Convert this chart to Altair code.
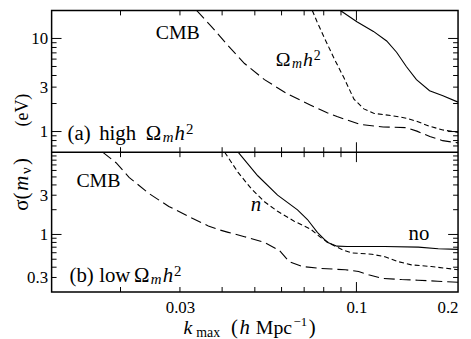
import altair as alt
import pandas as pd

# ---------------- data ----------------
# panel (a): high Omega_m h^2
top_cmb_k = [0.0336, 0.0372, 0.0417, 0.0466, 0.0534, 0.0625, 0.0732, 0.0819, 0.0876,
             0.1026, 0.120, 0.141, 0.151, 0.165, 0.180, 0.2]
top_cmb_s = [20, 13.4, 8.33, 5.38, 3.61, 2.53, 1.92, 1.59, 1.45,
             1.19, 1.12, 1.10, 1.01, 0.885, 0.798, 0.755]
top_om_k = [0.0740, 0.0765, 0.0802, 0.0859, 0.0919, 0.0983, 0.1052, 0.1125, 0.1289,
            0.1407, 0.1506, 0.1647, 0.1804, 0.2]
top_om_s = [20, 15.0, 10.3, 6.07, 3.76, 2.23, 1.75, 1.57, 1.47,
            1.39, 1.29, 1.14, 1.04, 0.98]
top_no_k = [0.0896, 0.1003, 0.1123, 0.1229, 0.1315, 0.1407, 0.1506, 0.1647, 0.1804, 0.2]
top_no_s = [20, 15.1, 11.9, 9.39, 7.11, 4.97, 3.61, 2.74, 2.43, 2.07]

# panel (b): low Omega_m h^2
bot_cmb_k = [0.0177, 0.0194, 0.0212, 0.0243, 0.0278, 0.0318, 0.0364, 0.0389, 0.0417,
             0.0466, 0.0534, 0.0591, 0.0632, 0.0692, 0.0775, 0.0927, 0.1015, 0.1086,
             0.1188, 0.136, 0.152, 0.174, 0.2]
bot_cmb_s = [10, 7.45, 4.95, 3.14, 2.19, 1.66, 1.27, 1.15, 1.06,
             0.94, 0.80, 0.64, 0.467, 0.407, 0.388, 0.372, 0.355, 0.324,
             0.293, 0.283, 0.278, 0.270, 0.263]
bot_n_k = [0.0407, 0.0446, 0.0488, 0.0534, 0.0584, 0.0654, 0.0732, 0.0783, 0.0838,
           0.0917, 0.0970, 0.1110, 0.1215, 0.1330, 0.1455, 0.1666, 0.1908, 0.2]
bot_n_s = [10, 5.67, 3.60, 2.50, 1.91, 1.45, 1.16, 0.921, 0.767,
           0.641, 0.596, 0.575, 0.535, 0.467, 0.427, 0.407, 0.382, 0.372]
bot_no_k = [0.0446, 0.0510, 0.0584, 0.0669, 0.0716, 0.0766, 0.0819, 0.0876, 0.0938,
            0.1213, 0.1526, 0.1747, 0.2]
bot_no_s = [10, 5.17, 3.00, 1.99, 1.52, 1.06, 0.804, 0.721, 0.715,
            0.715, 0.702, 0.670, 0.659]

# axes
x_domain = [0.0125, 0.2]
top_domain = [0.6, 20]
bot_domain = [0.2, 10]
x_label_values = [0.03, 0.1, 0.2]
top_label_values = [1, 3, 10]
bot_label_values = [0.3, 1, 3]
x_minor_ticks = [0.02, 0.03, 0.04, 0.05, 0.06, 0.07, 0.08, 0.09]
x_major_ticks = [0.1]
top_minor_ticks = [0.7, 0.8, 0.9, 2, 3, 4, 5, 6, 7, 8, 9]
top_major_ticks = [1, 10]
bot_minor_ticks = [0.3, 0.4, 0.5, 0.6, 0.7, 0.8, 0.9, 2, 3, 4, 5, 6, 7, 8, 9]
bot_major_ticks = [1]

# texts
lbl_cmb = "CMB"
lbl_omega = "Ω"
lbl_m = "m"
lbl_h = "h"
lbl_two = "2"
lbl_a = "(a)"
lbl_high = "high"
lbl_b = "(b)"
lbl_low = "low"
lbl_n = "n"
lbl_no = "no"

# ---------------- layout / style ----------------
FONT = "Liberation Serif"
W = 410
H_TOP = 143
H = 284
MINOR = 5
MAJOR = 10

xscale = alt.Scale(type="log", domain=x_domain, nice=False)
ytop = alt.Scale(type="log", domain=top_domain, range=[H_TOP, 0], nice=False)
ybot = alt.Scale(type="log", domain=bot_domain, range=[H, H_TOP], nice=False)

xaxis = alt.Axis(values=x_label_values, format="~g", title=None, domain=False,
                 ticks=False, grid=False, labelFont=FONT, labelFontSize=17,
                 labelColor="black", labelPadding=8, labelFlush=True)


def yaxis(vals):
    return alt.Axis(orient="left", values=vals, format="~g", title=None,
                    domain=False, ticks=False, grid=False, labelFont=FONT,
                    labelFontSize=17, labelColor="black", labelPadding=4)


top_axis = yaxis(top_label_values)
bot_axis = yaxis(bot_label_values)


def X():
    return alt.X("k:Q", scale=xscale, axis=xaxis)


def line(k, s, yscale, yax, dash=None):
    df = pd.DataFrame({"k": k, "s": s})
    kw = dict(color="black", strokeWidth=1.1)
    if dash:
        kw["strokeDash"] = dash
    return alt.Chart(df).mark_line(**kw).encode(
        x=X(), y=alt.Y("s:Q", scale=yscale, axis=yax), order="k:Q")


def xticks(vals, y0, y1):
    return alt.Chart(pd.DataFrame({"k": vals})).mark_rule(
        color="black", strokeWidth=1).encode(x=X(), y=alt.value(y0), y2=alt.value(y1))


def yticks(vals, yscale, yax, x0, x1):
    return alt.Chart(pd.DataFrame({"s": vals})).mark_rule(
        color="black", strokeWidth=1).encode(
        y=alt.Y("s:Q", scale=yscale, axis=yax), x=alt.value(x0), x2=alt.value(x1))


def txt(s, x, y, size=21, italic=False, angle=0):
    return alt.Chart(pd.DataFrame({"t": [s]})).mark_text(
        align="left", baseline="alphabetic", font=FONT, fontSize=size,
        fontStyle="italic" if italic else "normal", angle=angle, color="black"
    ).encode(text="t:N", x=alt.value(x), y=alt.value(y))


LONG = [11, 5]
SHORT = [5, 3]

top_layers = [
    line(top_cmb_k, top_cmb_s, ytop, top_axis, LONG),
    line(top_om_k, top_om_s, ytop, top_axis, SHORT),
    line(top_no_k, top_no_s, ytop, top_axis),
    yticks(top_minor_ticks, ytop, top_axis, 0, MINOR),
    yticks(top_major_ticks, ytop, top_axis, 0, MAJOR),
    yticks(top_minor_ticks, ytop, top_axis, W - MINOR, W),
    yticks(top_major_ticks, ytop, top_axis, W - MAJOR, W),
    xticks(x_minor_ticks, 0, MINOR),
    xticks(x_major_ticks, 0, MAJOR),
    xticks(x_minor_ticks, H_TOP - MINOR, H_TOP + MINOR),
    xticks(x_major_ticks, H_TOP - MAJOR, H_TOP + MAJOR),
    xticks(x_minor_ticks, H - MINOR, H),
    xticks(x_major_ticks, H - MAJOR, H),
    # panel (a) annotations
    txt(lbl_cmb, 105, 29, 20),
    txt(lbl_omega, 226, 56.5, 20),
    txt(lbl_m, 242.5, 58.5, 14, True),
    txt(lbl_h, 253.5, 56.5, 20, True),
    txt(lbl_two, 264.5, 50.5, 14),
    txt(lbl_a, 16, 130.5, 21),
    txt(lbl_high, 48, 130.5, 21),
    txt(lbl_omega, 95, 130.5, 21),
    txt(lbl_m, 112, 132.5, 15, True),
    txt(lbl_h, 124, 130.5, 21, True),
    txt(lbl_two, 135.5, 124.5, 15),
    # y title
    txt("σ(", -24, 202, 21, False, 270),
    txt("m", -24, 182, 21, True, 270),
    txt("ν", -20.5, 165, 15, False, 270),
    txt(")", -24, 156, 21, False, 270),
    txt("(eV)", -24, 117, 18, False, 270),
    # x title
    txt("k", 133, 326, 20, True),
    txt("max", 146, 329, 14),
    txt("(", 181, 326, 21),
    txt("h", 189.5, 326, 21, True),
    txt("Mpc", 206, 326, 20),
    txt("−1", 244, 318, 13),
    txt(")", 259.5, 326, 21),
]

bot_layers = [
    line(bot_cmb_k, bot_cmb_s, ybot, bot_axis, LONG),
    line(bot_n_k, bot_n_s, ybot, bot_axis, SHORT),
    line(bot_no_k, bot_no_s, ybot, bot_axis),
    alt.Chart(pd.DataFrame({"s": [bot_domain[1]]})).mark_rule(
        color="black", strokeWidth=1.5).encode(
        y=alt.Y("s:Q", scale=ybot, axis=bot_axis)),
    yticks(bot_minor_ticks, ybot, bot_axis, 0, MINOR),
    yticks(bot_major_ticks, ybot, bot_axis, 0, MAJOR),
    yticks(bot_minor_ticks, ybot, bot_axis, W - MINOR, W),
    yticks(bot_major_ticks, ybot, bot_axis, W - MAJOR, W),
    txt(lbl_cmb, 25, 178, 20),
    txt(lbl_b, 18, 274, 21),
    txt(lbl_low, 48, 274, 21),
    txt(lbl_omega, 83, 274, 21),
    txt(lbl_m, 100, 276, 15, True),
    txt(lbl_h, 112, 274, 21, True),
    txt(lbl_two, 123.5, 268, 15),
    txt(lbl_n, 201, 202, 21, True),
    txt(lbl_no, 360, 231.5, 21),
]

chart = alt.layer(alt.layer(*top_layers), alt.layer(*bot_layers)).resolve_scale(
    y="independent").resolve_axis(y="independent").properties(
    width=W, height=H,
    autosize=alt.AutoSizeParams(type="none"),
    padding={"left": 44, "top": 1, "right": 5, "bottom": 46},
).configure(font=FONT).configure_view(stroke="black", strokeWidth=1.5)

chart.save("out.html", embed_options={"renderer": "svg", "actions": False})
